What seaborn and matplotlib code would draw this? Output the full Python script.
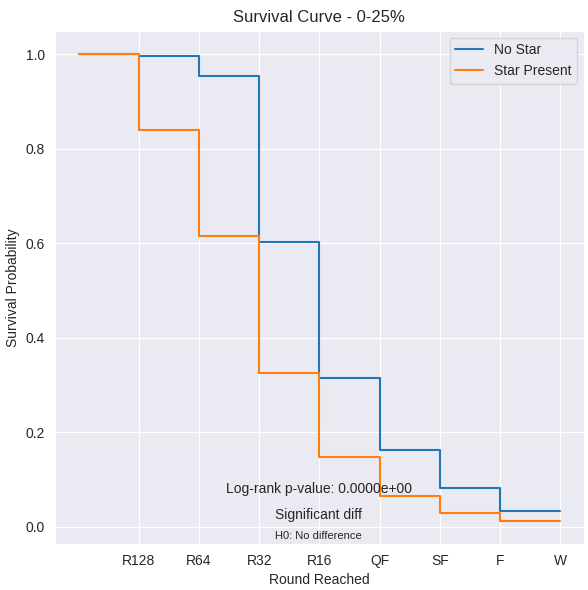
import matplotlib
matplotlib.use("Agg")
import matplotlib.pyplot as plt
import seaborn as sns
import pandas as pd
import numpy as np

rounds = ["R128", "R64", "R32", "R16", "QF", "SF", "F", "W"]
x_steps = [0, 1, 2, 3, 4, 5, 6, 7, 8]
no_star = [1.0, 0.996, 0.953, 0.602, 0.314, 0.163, 0.082, 0.034, 0.034]
star_present = [1.0, 0.839, 0.615, 0.326, 0.148, 0.066, 0.030, 0.013, 0.013]

sns.set_style("darkgrid")
plt.rcParams['font.family'] = ['Liberation Sans', 'DejaVu Sans']

df = pd.DataFrame({
    "x": x_steps * 2,
    "survival": no_star + star_present,
    "group": ["No Star"] * len(x_steps) + ["Star Present"] * len(x_steps),
})

fig, ax = plt.subplots(figsize=(5.88, 5.9), dpi=100)
sns.lineplot(data=df, x="x", y="survival", hue="group", drawstyle="steps-post",
             ax=ax, linewidth=1.5, palette=["#1f77b4", "#ff7f0e"])
ax.set_xticks(range(1, 9))
ax.set_xticklabels(rounds)
ax.set_xlabel("Round Reached")
ax.set_ylabel("Survival Probability")
ax.set_title("Survival Curve - 0-25%")
ax.legend(loc="upper right", title=None)

ax.text(0.499, 0.107, "Log-rank p-value: 0.0000e+00", transform=ax.transAxes,
        ha="center", va="center", fontsize=10)
ax.text(0.499, 0.056, "Significant diff", transform=ax.transAxes,
        ha="center", va="center", fontsize=10)
ax.text(0.499, 0.016, "H0: No difference", transform=ax.transAxes,
        ha="center", va="center", fontsize=8)

fig.subplots_adjust(left=0.093, right=0.9934, top=0.948, bottom=0.078)
fig.savefig("out.png", dpi=100)
